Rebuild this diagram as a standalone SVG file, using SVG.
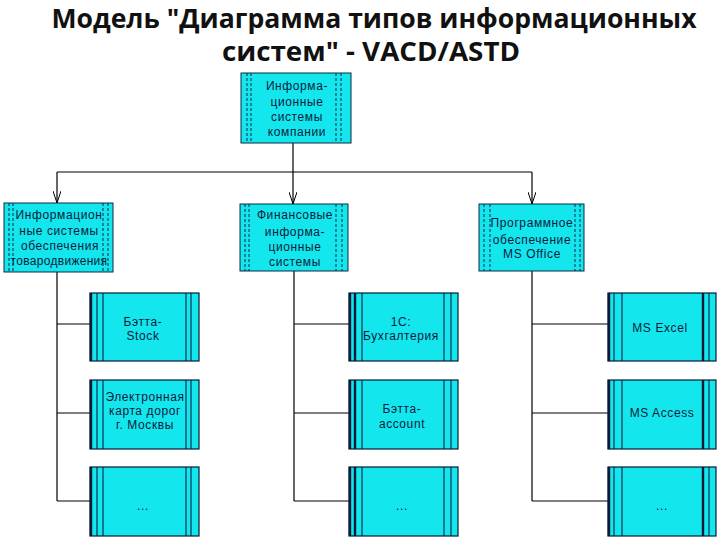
<svg xmlns="http://www.w3.org/2000/svg" width="720" height="540" viewBox="0 0 720 540">
<style>
.title{font-family:"Open Sans","Liberation Sans",sans-serif;font-weight:700;font-size:26px;fill:#111;text-anchor:middle}
.lbl{font-family:"Liberation Sans","DejaVu Sans",sans-serif;font-size:12px;letter-spacing:0.6px;fill:#0c1c3c;text-anchor:middle}
.box{fill:#14e6ee;stroke:#0c2a44;stroke-width:1}
.dash{stroke:#0c2a44;stroke-width:1;stroke-dasharray:3,2;fill:none}
.leaf{fill:#14e6ee;stroke:#081a36;stroke-width:1.2}
.edge{stroke:#081a36;stroke-width:2.4;fill:none}
.inner{stroke:#0c2244;stroke-width:1.1;fill:none}
.conn{stroke:#000;stroke-width:1.2;fill:none}
</style>
<defs>
<marker id="arr" viewBox="0 0 12 8" refX="12" refY="4" markerWidth="12" markerHeight="8" markerUnits="userSpaceOnUse" orient="auto">
<path d="M0,0 L12,4 L0,8" fill="none" stroke="#000" stroke-width="1"/>
</marker>
</defs>
<rect width="720" height="540" fill="#fff"/>
<text class="title" x="374" y="28" textLength="645" lengthAdjust="spacingAndGlyphs">Модель "Диаграмма типов информационных</text>
<text class="title" x="371" y="61" textLength="298" lengthAdjust="spacingAndGlyphs">систем" - VACD/ASTD</text>

<g id="connectors">
<path class="conn" d="M293,143 V172"/>
<path class="conn" d="M57,172 H532"/>
<path class="conn" d="M57,172 V203" marker-end="url(#arr)"/>
<path class="conn" d="M293,172 V204" marker-end="url(#arr)"/>
<path class="conn" d="M532,172 V204" marker-end="url(#arr)"/>
<path class="conn" d="M57,272 V501 M57,324 H90 M57,413 H90 M57,501 H90"/>
<path class="conn" d="M294,271 V501 M294,324 H349 M294,413 H349 M294,501 H349"/>
<path class="conn" d="M532,271 V501 M532,324 H608 M532,413 H608 M532,501 H608"/>
</g>

<g id="n-top">
<rect class="box" x="241" y="73" width="110" height="70"/>
<path class="dash" d="M247,73 V143 M251,73 V143 M336,73 V143 M341,73 V143"/>
<text class="lbl" x="297" y="90">Информа-</text>
<text class="lbl" x="297" y="106">ционные</text>
<text class="lbl" x="297" y="121">системы</text>
<text class="lbl" x="297" y="136">компании</text>
</g>

<g id="n-tov">
<rect class="box" x="4" y="203" width="109" height="69"/>
<path class="dash" d="M9,203 V272 M13,203 V272 M103,203 V272 M108,203 V272"/>
<text class="lbl" x="59" y="219">Информацион</text>
<text class="lbl" x="59" y="235">ные системы</text>
<text class="lbl" x="60" y="250">обеспечения</text>
<text class="lbl" x="59" y="265" style="letter-spacing:0.3px">товародвижения</text>
</g>

<g id="n-fin">
<rect class="box" x="240" y="204" width="108" height="67"/>
<path class="dash" d="M245,204 V271 M249,204 V271 M336,204 V271 M342,204 V271"/>
<text class="lbl" x="295" y="219">Финансовые</text>
<text class="lbl" x="295" y="236">информа-</text>
<text class="lbl" x="295" y="251">ционные</text>
<text class="lbl" x="295" y="266">системы</text>
</g>

<g id="n-soft">
<rect class="box" x="479" y="204" width="105" height="67"/>
<path class="dash" d="M484,204 V271 M490,204 V271 M575,204 V271 M580,204 V271"/>
<text class="lbl" x="532" y="227">Программное</text>
<text class="lbl" x="532" y="244">обеспечение</text>
<text class="lbl" x="532" y="258">MS Office</text>
</g>

<g id="n-stock">
<rect class="leaf" x="90" y="293" width="109" height="68"/>
<path class="edge" d="M91,293 V361"/>
<path class="inner" d="M97,293 V361 M103,293 V361 M186,293 V361 M191,293 V361"/>
<text class="lbl" x="143" y="326">Бэтта-</text>
<text class="lbl" x="143" y="340">Stock</text>
</g>

<g id="n-map">
<rect class="leaf" x="90" y="380" width="109" height="69"/>
<path class="edge" d="M91,380 V449"/>
<path class="inner" d="M97,380 V449 M103,380 V449 M186,380 V449 M191,380 V449"/>
<text class="lbl" x="145" y="401">Электронная</text>
<text class="lbl" x="145" y="415">карта дорог</text>
<text class="lbl" x="145" y="429">г. Москвы</text>
</g>

<g id="n-etc1">
<rect class="leaf" x="90" y="467" width="109" height="69"/>
<path class="edge" d="M91,467 V536"/>
<path class="inner" d="M97,467 V536 M103,467 V536 M186,467 V536 M191,467 V536"/>
<text class="lbl" x="143" y="510">...</text>
</g>

<g id="n-1c">
<rect class="leaf" x="349" y="293" width="109" height="68"/>
<path class="edge" d="M350,293 V361 M355,293 V361"/>
<path class="inner" d="M362,293 V361 M444,293 V361 M451,293 V361"/>
<text class="lbl" x="401" y="326">1С:</text>
<text class="lbl" x="401" y="340">Бухгалтерия</text>
</g>

<g id="n-account">
<rect class="leaf" x="349" y="380" width="109" height="69"/>
<path class="edge" d="M350,380 V449 M355,380 V449"/>
<path class="inner" d="M362,380 V449 M444,380 V449 M451,380 V449"/>
<text class="lbl" x="402" y="413">Бэтта-</text>
<text class="lbl" x="402" y="428">account</text>
</g>

<g id="n-etc2">
<rect class="leaf" x="349" y="467" width="109" height="69"/>
<path class="edge" d="M350,467 V536 M355,467 V536"/>
<path class="inner" d="M362,467 V536 M444,467 V536 M451,467 V536"/>
<text class="lbl" x="402" y="510">...</text>
</g>

<g id="n-excel">
<rect class="leaf" x="608" y="293" width="108" height="68"/>
<path class="edge" d="M609,293 V361 M703,293 V361"/>
<path class="inner" d="M614,293 V361 M622,293 V361 M709,293 V361"/>
<text class="lbl" x="660" y="332">MS Excel</text>
</g>

<g id="n-access">
<rect class="leaf" x="608" y="380" width="108" height="69"/>
<path class="edge" d="M609,380 V449 M703,380 V449"/>
<path class="inner" d="M614,380 V449 M622,380 V449 M709,380 V449"/>
<text class="lbl" x="662" y="417">MS Access</text>
</g>

<g id="n-etc3">
<rect class="leaf" x="608" y="467" width="108" height="69"/>
<path class="edge" d="M609,467 V536 M703,467 V536"/>
<path class="inner" d="M614,467 V536 M622,467 V536 M709,467 V536"/>
<text class="lbl" x="662" y="510">...</text>
</g>
</svg>
